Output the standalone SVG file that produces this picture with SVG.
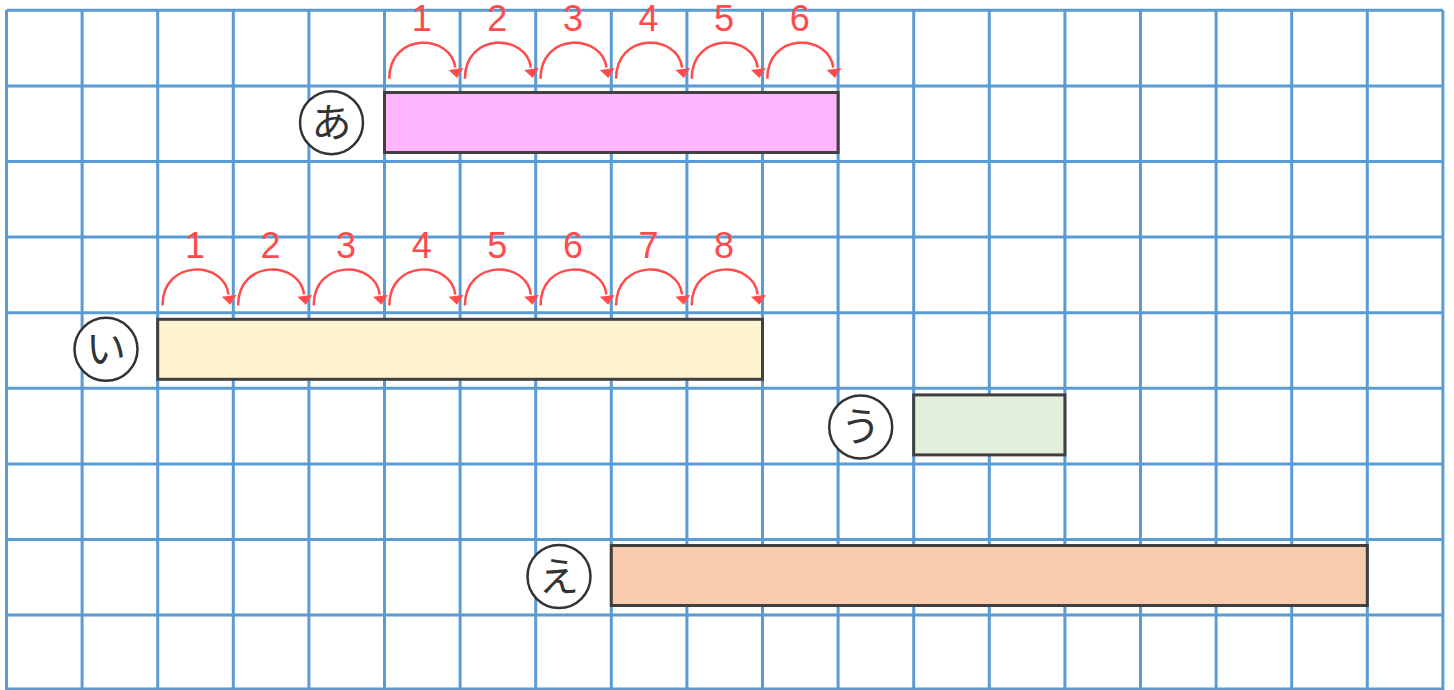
<svg xmlns="http://www.w3.org/2000/svg" xmlns:xlink="http://www.w3.org/1999/xlink" width="1454" height="690" viewBox="0 0 1454 690">
<style>
.grid{stroke:#5b9bd5;stroke-width:3;fill:none}
.bar{stroke:#404040;stroke-width:3}
.lbl{fill:#fff;stroke:#333;stroke-width:2.5}
.kana{font-family:"Noto Sans CJK JP","Noto Sans",sans-serif;font-size:40px;fill:#333;text-anchor:middle}
.num{font-family:"Liberation Sans",Arial,sans-serif;font-size:36px;fill:#ff4b4b;text-anchor:middle}
.hop{fill:none;stroke:#ff4b4b;stroke-width:2.5}
.head{fill:#ff4b4b}
</style>
<defs>
<g id="hopshape">
<path class="hop" d="M0,0 C0,-47 62,-45 66,-11"/>
<polygon class="head" points="59.3,-8.8 74.1,-10.6 67.7,-0.7"/>
</g>
</defs>
<rect x="0" y="0" width="1454" height="690" fill="#fff"/>
<g id="grid" class="grid">
<path d="M6.5,10.3V690 M82.1,10.3V690 M157.7,10.3V690 M233.3,10.3V690 M308.9,10.3V690 M384.5,10.3V690 M460.1,10.3V690 M535.7,10.3V690 M611.3,10.3V690 M686.9,10.3V690 M762.5,10.3V690 M838.1,10.3V690 M913.7,10.3V690 M989.3,10.3V690 M1064.9,10.3V690 M1140.5,10.3V690 M1216.1,10.3V690 M1291.7,10.3V690 M1367.3,10.3V690 M1442.9,10.3V690"/>
<path d="M6.5,10.3H1442.9 M6.5,85.9H1442.9 M6.5,161.5H1442.9 M6.5,237.1H1442.9 M6.5,312.7H1442.9 M6.5,388.3H1442.9 M6.5,463.9H1442.9 M6.5,539.5H1442.9 M6.5,615.1H1442.9 M6.5,689H1442.9"/>
</g>
<g id="connectors">
<use xlink:href="#hopshape" href="#hopshape" transform="translate(389.3,78.7)"/>
<use xlink:href="#hopshape" href="#hopshape" transform="translate(464.9,78.7)"/>
<use xlink:href="#hopshape" href="#hopshape" transform="translate(540.5,78.7)"/>
<use xlink:href="#hopshape" href="#hopshape" transform="translate(616.1,78.7)"/>
<use xlink:href="#hopshape" href="#hopshape" transform="translate(691.7,78.7)"/>
<use xlink:href="#hopshape" href="#hopshape" transform="translate(767.3,78.7)"/>
<use xlink:href="#hopshape" href="#hopshape" transform="translate(162.5,305.5)"/>
<use xlink:href="#hopshape" href="#hopshape" transform="translate(238.1,305.5)"/>
<use xlink:href="#hopshape" href="#hopshape" transform="translate(313.7,305.5)"/>
<use xlink:href="#hopshape" href="#hopshape" transform="translate(389.3,305.5)"/>
<use xlink:href="#hopshape" href="#hopshape" transform="translate(464.9,305.5)"/>
<use xlink:href="#hopshape" href="#hopshape" transform="translate(540.5,305.5)"/>
<use xlink:href="#hopshape" href="#hopshape" transform="translate(616.1,305.5)"/>
<use xlink:href="#hopshape" href="#hopshape" transform="translate(691.7,305.5)"/>
</g>
<g id="numbers-a">
<text class="num" x="421.7" y="31">1</text>
<text class="num" x="497.3" y="31">2</text>
<text class="num" x="572.9" y="31">3</text>
<text class="num" x="648.5" y="31">4</text>
<text class="num" x="724.1" y="31">5</text>
<text class="num" x="799.7" y="31">6</text>
</g>
<g id="numbers-i">
<text class="num" x="194.9" y="258">1</text>
<text class="num" x="270.5" y="258">2</text>
<text class="num" x="346.1" y="258">3</text>
<text class="num" x="421.7" y="258">4</text>
<text class="num" x="497.3" y="258">5</text>
<text class="num" x="572.9" y="258">6</text>
<text class="num" x="648.5" y="258">7</text>
<text class="num" x="724.1" y="258">8</text>
</g>
<g id="node-a">
<rect class="bar" x="384.5" y="92.5" width="453.6" height="60" fill="#ffb6ff"/>
<circle class="lbl" cx="331.5" cy="122.7" r="31.5"/>
<text class="kana" x="331.5" y="136.5">あ</text>
</g>
<g id="node-i">
<rect class="bar" x="157.7" y="319.3" width="604.8" height="60" fill="#fff2d0"/>
<circle class="lbl" cx="106" cy="349.3" r="31.5"/>
<text class="kana" x="106" y="363">い</text>
</g>
<g id="node-u">
<rect class="bar" x="913.7" y="394.9" width="151.2" height="60" fill="#e2efda"/>
<circle class="lbl" cx="860.7" cy="427" r="31.5"/>
<text class="kana" x="860.7" y="441">う</text>
</g>
<g id="node-e">
<rect class="bar" x="611.3" y="545.5" width="756" height="60" fill="#f8cbad"/>
<circle class="lbl" cx="559" cy="576.5" r="31.5"/>
<text class="kana" x="559" y="590.5">え</text>
</g>
</svg>
